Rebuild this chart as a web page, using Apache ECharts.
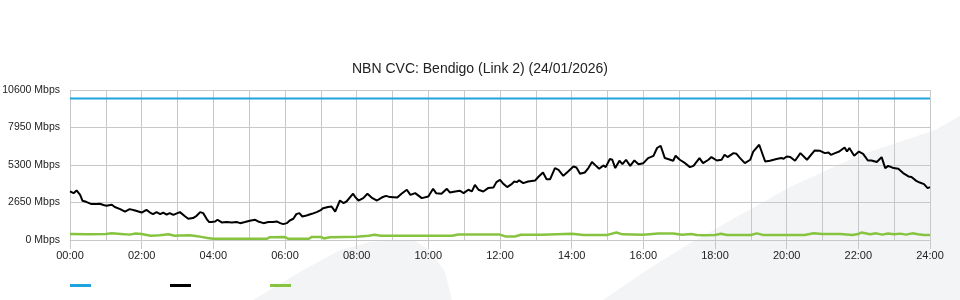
<!DOCTYPE html>
<html>
<head>
<meta charset="utf-8">
<script src="https://cdn.jsdelivr.net/npm/echarts@6/dist/echarts.min.js"></script>
<style>html,body{margin:0;padding:0;background:#fff;}#c{width:960px;height:300px;}</style>
</head>
<body>
<div id="c"></div>
<script>
// ---- data (x in minutes since 00:00, y in Mbps) ----
const titleText = 'NBN CVC: Bendigo (Link 2) (24/01/2026)';
const yTicks = [0, 2650, 5300, 7950, 10600];
const xTickMinutes = [0,120,240,360,480,600,720,840,960,1080,1200,1320,1440];

const capacityTimes = [0, 1440];
const capacityValues = [10000, 10000];

const downTimes = [0,6,11,17,21,28,36,45,50,56,61,70,75,84,92,100,109,120,128,134,139,145,151,156,162,167,173,184,193,198,206,212,218,223,229,233,237,243,247,254,262,271,279,285,293,301,310,315,324,332,340,346,352,357,363,368,374,379,384,389,396,405,413,419,424,432,438,444,452,458,463,474,477,483,491,498,505,514,522,529,536,548,555,564,570,578,589,600,608,613,622,631,636,645,653,659,667,673,678,684,692,700,709,714,720,726,732,740,744,748,752,759,767,779,784,792,798,804,812,818,826,834,843,848,854,862,868,874,879,886,893,897,904,908,913,920,925,931,938,945,952,960,968,977,983,989,996,1005,1010,1014,1021,1030,1038,1044,1054,1060,1069,1074,1083,1091,1096,1101,1111,1116,1122,1130,1139,1144,1154,1164,1172,1183,1191,1195,1200,1206,1214,1223,1234,1247,1256,1264,1270,1274,1281,1288,1297,1301,1305,1313,1321,1328,1336,1342,1351,1359,1365,1370,1379,1387,1395,1404,1409,1417,1423,1430,1436,1440];
const downValues = [3430,3310,3500,3190,2770,2680,2540,2540,2560,2470,2420,2490,2330,2180,2010,2180,2090,1940,2130,1940,1830,1970,1830,1940,1800,1900,1780,1970,1660,1500,1550,1710,1970,1900,1480,1270,1270,1310,1430,1240,1270,1240,1270,1190,1270,1360,1430,1310,1190,1270,1270,1310,1190,1120,1190,1380,1500,1830,1900,1660,1730,1850,1970,2090,2250,2330,2370,2010,2790,2610,2720,3270,3070,2790,2960,3270,3000,2790,3000,3120,3030,3000,3270,3550,3190,3310,2960,3070,3620,3310,3270,3620,3360,3430,3480,3310,3550,3430,3900,3550,3430,3670,3710,4090,4250,3950,3740,3970,4130,4090,4210,4020,4130,4210,4450,4770,4300,4300,5080,4960,4540,4840,5190,5120,4680,4770,5080,5510,5310,5030,5270,5150,5720,5670,5080,5600,5360,5670,5240,5620,5360,5430,5790,5950,6500,6660,5790,5670,5600,5950,5670,5430,5150,5240,5790,5430,5670,5860,5620,5670,6020,5860,6140,6090,5790,5430,5670,6250,6730,5550,5600,5720,5790,5740,5900,5860,5600,6140,5670,6330,6300,6140,6180,6020,6140,6250,6540,6250,6500,5950,6250,6090,5620,5620,5510,5860,5080,5240,5080,5030,4730,4490,4450,4180,4060,3950,3670,3740];

const upTimes = [0,30,60,70,85,100,110,120,135,150,165,175,185,200,210,220,230,240,270,300,330,335,360,365,400,405,420,425,435,480,500,510,520,560,600,640,650,700,720,730,745,755,790,840,860,900,915,925,960,985,1010,1025,1040,1050,1060,1080,1090,1100,1140,1150,1160,1200,1230,1245,1260,1290,1310,1320,1325,1340,1350,1360,1370,1380,1390,1400,1410,1420,1430,1440];
const upValues = [420,400,430,480,430,380,460,420,300,330,400,300,320,330,290,220,140,90,90,90,90,200,210,90,90,220,220,110,200,230,300,370,300,300,300,300,390,390,380,240,250,370,370,440,350,360,530,400,370,460,460,370,430,360,340,350,440,350,350,470,360,350,350,470,420,420,350,420,530,400,470,380,460,400,450,380,470,400,350,350];

const seriesNames = ['Capacity', 'Download', 'Upload'];
const seriesColors = ['#1ea3df', '#000000', '#86c440'];

function pairs(t, v) { return t.map((x, i) => [x, v[i]]); }
function fmtTime(m) { const h = Math.round(m / 60); return (h < 10 ? '0' : '') + h + ':00'; }

const chart = echarts.init(document.getElementById('c'), null, {renderer: 'canvas'});
const font = 'Liberation Sans, Arial, Helvetica, sans-serif';
const gridColor = '#c8c8c8';

chart.setOption({
  animation: false,
  backgroundColor: '#ffffff',
  textStyle: {fontFamily: font},
  title: {
    text: titleText, left: 'center', top: 62, padding: 0,
    textStyle: {fontSize: 14, fontWeight: 'normal', color: '#222', fontFamily: font}
  },
  graphic: [
    {type: 'polygon', z: -10, silent: true,
     shape: {points: [[253,300],[300,272],[340,250],[370,242],[400,240],[415,241],[430,250],[445,272],[452,300]]},
     style: {fill: '#f3f4f6'}},
    {type: 'polygon', z: -10, silent: true,
     shape: {points: [[603,300],[650,268],[687,245],[740,215],[790,187],[860,155],[935,130],[960,116],[960,300]]},
     style: {fill: '#f3f4f6'}}
  ],
  legend: seriesNames.map((n, i) => ({
    data: [n], left: 70 + i * 100, top: 284, padding: 0,
    icon: 'rect', itemWidth: 21, itemHeight: 3,
    formatter: () => '', selectedMode: false,
    textStyle: {fontSize: 1}
  })),
  grid: {left: 70, right: 30, top: 90, bottom: 60, containLabel: false, outerBoundsMode: 'none'},
  xAxis: {
    type: 'value', min: 0, max: 1440, interval: 120,
    axisLine: {show: true, lineStyle: {color: gridColor}},
    axisTick: {show: true, length: 9, lineStyle: {color: gridColor}},
    minorTick: {show: false, splitNumber: 2},
    splitLine: {show: true, lineStyle: {color: gridColor, width: 1}},
    minorSplitLine: {show: true, lineStyle: {color: gridColor, width: 1}},
    axisLabel: {color: '#222', fontSize: 11, margin: 10, fontFamily: font,
      formatter: v => xTickMinutes.indexOf(v) >= 0 ? fmtTime(v) : ''}
  },
  yAxis: {
    type: 'value', min: 0, max: 10600, interval: 2650,
    axisLine: {show: false}, axisTick: {show: false},
    splitLine: {show: true, lineStyle: {color: gridColor, width: 1}},
    axisLabel: {color: '#222', fontSize: 10.5, margin: 10, fontFamily: font,
      formatter: v => yTicks.indexOf(v) >= 0 ? v + ' Mbps' : ''}
  },
  series: [
    {name: seriesNames[0], type: 'line', data: pairs(capacityTimes, capacityValues),
     symbol: 'none', lineStyle: {color: seriesColors[0], width: 2}, itemStyle: {color: seriesColors[0]}},
    {name: seriesNames[2], type: 'line', data: pairs(upTimes, upValues),
     symbol: 'none', lineStyle: {color: seriesColors[2], width: 2.5}, itemStyle: {color: seriesColors[2]}},
    {name: seriesNames[1], type: 'line', data: pairs(downTimes, downValues),
     symbol: 'none', lineStyle: {color: seriesColors[1], width: 2}, itemStyle: {color: seriesColors[1]}}
  ]
});
</script>
</body>
</html>
